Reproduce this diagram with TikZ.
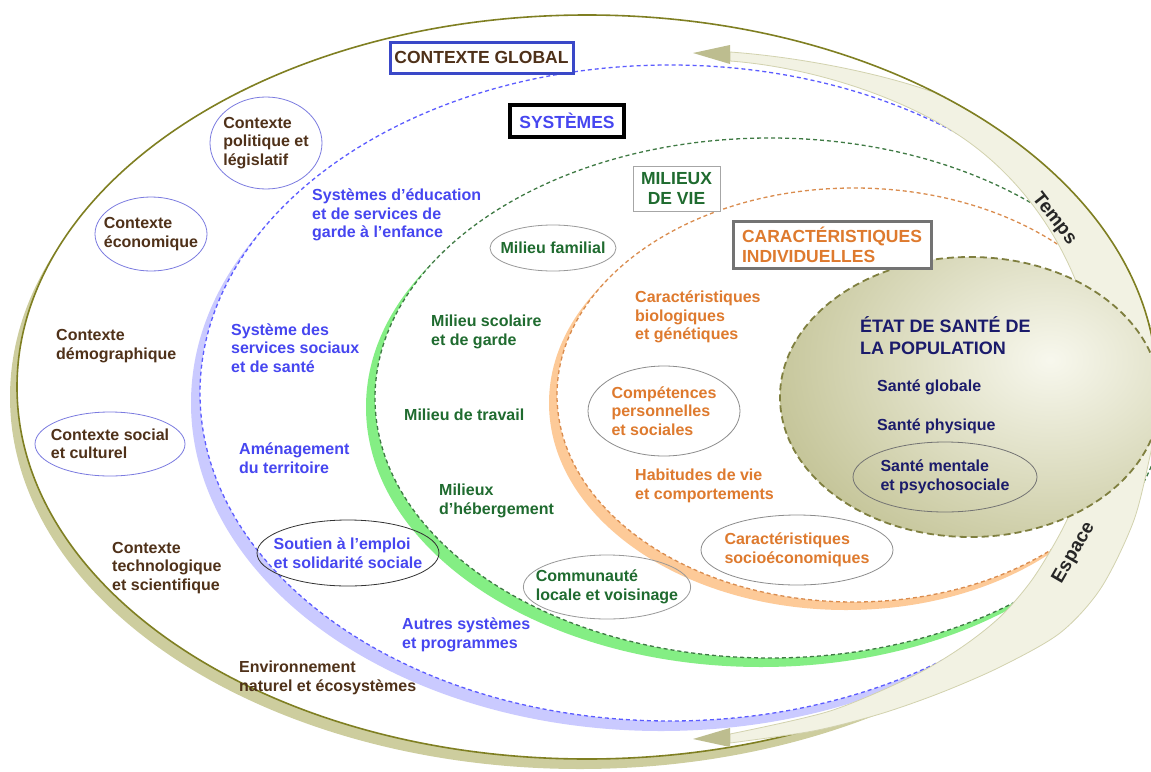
\documentclass[tikz,border=0pt]{standalone}
\usepackage{fontspec}
\setmainfont{Liberation Sans}
\usetikzlibrary{shapes.geometric}

\definecolor{ctxtext}{HTML}{4F3119}
\definecolor{ctxline}{HTML}{7F7F22}
\definecolor{ctxshade}{HTML}{CDCD9E}
\definecolor{ctxoval}{HTML}{7B7BE0}
\definecolor{ctxtitle}{HTML}{3A48C8}
\definecolor{systext}{HTML}{4646F0}
\definecolor{sysline}{HTML}{5C5CFF}
\definecolor{sysshade}{HTML}{CACAFF}
\definecolor{miltext}{HTML}{1F6B2F}
\definecolor{milline}{HTML}{3F7A44}
\definecolor{milshade}{HTML}{84EE84}
\definecolor{indtext}{HTML}{DE7A2E}
\definecolor{indline}{HTML}{DA8C4E}
\definecolor{indshade}{HTML}{FDCA98}
\definecolor{santext}{HTML}{1B1B6B}
\definecolor{sanline}{HTML}{7F7F3F}
\definecolor{sandark}{rgb}{0.76,0.76,0.58}
\definecolor{sanlight}{rgb}{0.97,0.97,0.93}
\definecolor{bandfill}{HTML}{F2F2E3}
\definecolor{bandline}{HTML}{D2D2AE}
\definecolor{headfill}{HTML}{BDBD8F}

\tikzset{
  lbl/.style={inner sep=0pt, anchor=west, align=left, font=\bfseries\fontsize{16pt}{18.5pt}\selectfont},
  ctx/.style={lbl, text=ctxtext},
  sys/.style={lbl, text=systext},
  mil/.style={lbl, text=miltext},
  ind/.style={lbl, text=indtext},
  san/.style={lbl, text=santext},
  oval/.style={ellipse, draw=#1, line width=0.8pt, inner sep=-12pt, anchor=center},
  titlebox/.style={draw=#1, fill=white, inner sep=0pt, font=\bfseries\fontsize{17.5pt}{20pt}\selectfont},
  ring/.style={fill=white, draw=#1, line width=1.3pt, dash pattern=on 4pt off 3pt},
  band/.style={fill=bandfill, draw=bandline, line width=0.8pt},
  head/.style={fill=headfill},
  axis/.style={lbl, anchor=center, text=black!85, font=\bfseries\fontsize{19pt}{22pt}\selectfont}
}

\begin{document}
\begin{tikzpicture}[x=1pt,y=-1pt]
	\useasboundingbox (0,0) rectangle (1151,771);
	\clip (0,0) rectangle (1151,771);

	% rings with their shadows
	\fill[ctxshade] (580,397) ellipse [x radius=570, y radius=372];
	\fill[white] (587,387) ellipse [x radius=570, y radius=372];
	\fill[sysshade] (661,403) ellipse [x radius=470, y radius=328];
	\path[ring=sysline] (670,393) ellipse [x radius=470, y radius=328];
	\fill[milshade] (761,407) ellipse [x radius=395, y radius=260];
	\path[ring=milline] (770,398) ellipse [x radius=395, y radius=260];
	\fill[indshade] (846,403) ellipse [x radius=297, y radius=207];
	\path[ring=indline] (854,395) ellipse [x radius=297, y radius=207];

	% temps and espace
	\path[band] plot[domain=-6:52, samples=40] ({587+570*cos(\x)}, {387-372*sin(\x)})
		.. controls (885,74) and (800,57) .. (730,52) -- (730,61)
		.. controls (810,67) and (900,96) .. (960,136)
		.. controls (1020,176) and (1060,236) .. (1080,292)
		-- (1115,400) -- cycle;
	\fill[head] (693,53) -- (730,45) -- (730,64) -- cycle;
	\draw[ctxline, line width=1.6pt] (587,387) ellipse [x radius=570, y radius=372];
	\path[band] plot[smooth] coordinates {(1162,400) (1152,447) (1134,520) (1101,588) (1060,633) (1000,667) (940,693) (880,714) (813,731) (730,743)}
		-- plot[smooth] coordinates {(730,734) (830,711) (913,676) (962,647) (1001,616) (1034,577) (1066,522) (1085,470) (1100,420)}
		-- cycle;
	\fill[head] (693,739) -- (730,728) -- (730,747) -- cycle;

	% etat de sante
	\begin{scope}
		\clip (970,397) ellipse [x radius=190, y radius=140];
		\shade[inner color=sanlight, outer color=sandark] (1050,360) ellipse [x radius=300, y radius=230];
	\end{scope}
	\draw[sanline, line width=1.8pt, dash pattern=on 7pt off 4pt] (970,397) ellipse [x radius=190, y radius=140];

	\node[axis, rotate=-52] (temps) at (1054,219) {Temps};
	\node[axis, rotate=60] (espace) at (1074,553) {Espace};

	\node[titlebox=ctxtitle, line width=3pt, text=ctxtext, minimum width=183pt, minimum height=31pt] (tglobal) at (481.5,57.5) {CONTEXTE GLOBAL};
	\node[titlebox=black, line width=3.5pt, text=systext, minimum width=114pt, minimum height=32pt] (tsys) at (567,121) {SYSTÈMES};
	\node[titlebox=black!35, line width=1pt, text=miltext, align=center, minimum width=87pt, minimum height=45pt] (tmil) at (676.5,188.5) {MILIEUX\\DE VIE};
	\node[titlebox=black!55, line width=3pt, text=indtext, align=left, minimum width=198pt, minimum height=47pt] (tind) at (832,244.5) {CARACTÉRISTIQUES\\INDIVIDUELLES};

	\node[ctx, oval=ctxoval, minimum width=112pt, minimum height=92pt] (ctxpol) at (266,143) {Contexte\\politique et\\législatif};
	\node[ctx, oval=ctxoval, minimum width=112pt, minimum height=74pt] (ctxeco) at (151,234) {Contexte\\économique};
	\node[ctx] (ctxdem) at (56,346) {Contexte\\démographique};
	\node[ctx, oval=ctxoval, minimum width=150pt, minimum height=64pt] (ctxsoc) at (110,444) {Contexte social\\et culturel};
	\node[ctx] (ctxtec) at (112,568) {Contexte\\technologique\\et scientifique};
	\node[ctx] (ctxenv) at (239,678) {Environnement\\naturel et écosystèmes};

	\node[sys] (sysedu) at (312,215) {Systèmes d’éducation\\et de services de\\garde à l’enfance};
	\node[sys] (syssan) at (231,348) {Système des\\services sociaux\\et de santé};
	\node[sys] (sysame) at (239,458) {Aménagement\\du territoire};
	\node[sys, oval=black!80, minimum width=182pt, minimum height=66pt] (sysemp) at (348,553) {Soutien à l’emploi\\et solidarité sociale};
	\node[sys] (sysaut) at (402,635) {Autres systèmes\\et programmes};

	\node[mil, oval=black!40, minimum width=126pt, minimum height=46pt] (milfam) at (553,248) {Milieu familial};
	\node[mil] (milsco) at (431,332) {Milieu scolaire\\et de garde};
	\node[mil] (miltra) at (404,415) {Milieu de travail};
	\node[mil] (milheb) at (439,501) {Milieux\\d’hébergement};
	\node[mil, oval=black!40, minimum width=164pt, minimum height=64pt] (milcom) at (607,587) {Communauté\\locale et voisinage};

	\node[ind] (indbio) at (635,317) {Caractéristiques\\biologiques\\et génétiques};
	\node[ind, oval=black!45, minimum width=152pt, minimum height=90pt] (indcom) at (664,411) {Compétences\\personnelles\\et sociales};
	\node[ind] (indhab) at (635,486) {Habitudes de vie\\et comportements};
	\node[ind, oval=black!45, minimum width=192pt, minimum height=70pt] (indsoc) at (797,550) {Caractéristiques\\socioéconomiques};

	\node[san, font=\bfseries\fontsize{18pt}{22pt}\selectfont] (santit) at (860,336) {ÉTAT DE SANTÉ DE\\LA POPULATION};
	\node[san] (sanglo) at (877,387) {Santé globale};
	\node[san] (sanphy) at (877,426) {Santé physique};
	\node[san, oval=black!55, minimum width=184pt, minimum height=70pt] (sanmen) at (945,477) {Santé mentale\\et psychosociale};
\end{tikzpicture}
\end{document}
